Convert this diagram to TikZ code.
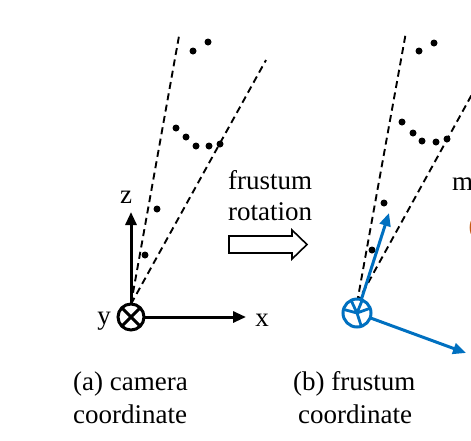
\documentclass[tikz,border=0pt]{standalone}
\usepackage{fontspec}
\setmainfont{Liberation Serif}
\usetikzlibrary{arrows.meta}
\definecolor{axblue}{RGB}{0,112,192}
\definecolor{axorange}{RGB}{197,90,17}
\tikzset{
  lbl/.style={inner sep=0pt, font=\fontsize{27}{33}\selectfont},
  frus/.style={dashed, dash pattern=on 7pt off 4.5pt, line width=1.9pt},
  pt/.style={circle, fill=black, inner sep=0pt, minimum size=7pt},
  axis/.style={line width=3pt, -{Triangle[length=13pt,width=11pt]}},
  baxis/.style={axblue, line width=3pt, -{Triangle[length=13pt,width=11pt]}},
}
\begin{document}
\begin{tikzpicture}[x=1pt,y=-1pt]
\useasboundingbox (0,0) rectangle (471,440);
% ---------- (a) camera coordinate ----------
\coordinate (oa) at (131,317);
\coordinate (fa) at (131,304);
\coordinate (fa1) at (179,36);
\coordinate (fa2) at (266,60);
\draw[frus] (fa) -- (fa1);
\draw[frus] (fa) -- (fa2);
\foreach \p [count=\i] in {(193,51),(208,42),(176,128),(186,137),(196,146),(209,146),(220,144),(157,209),(145,255)}
  \node[pt] (pa\i) at \p {};
\coordinate (za) at (131,212);
\coordinate (xa) at (246,317);
\draw[axis] (oa) -- (za);
\draw[axis] (oa) -- (xa);
\draw[line width=3pt, fill=white] (oa) circle (13);
\draw[line width=3pt] (oa) -- ++(45:13) (oa) -- ++(135:13) (oa) -- ++(225:13) (oa) -- ++(315:13);
\node[lbl, anchor=base] (zl) at (126,203) {z};
\node[lbl, anchor=base] (yl) at (104,324) {y};
\node[lbl, anchor=base] (xl) at (262,326) {x};
\node[lbl, anchor=base west] (ca1) at (73,390) {(a) camera};
\node[lbl, anchor=base west] (ca2) at (73,423) {coordinate};
% ---------- frustum rotation ----------
\node[lbl, anchor=base west] (fr1) at (228,189) {frustum};
\node[lbl, anchor=base west] (fr2) at (228,220) {rotation};
\draw[line width=1.6pt, fill=white] (229,236) -- (292,236) -- (292,230) -- (307,244.5) -- (292,259) -- (292,253) -- (229,253) -- cycle;
% ---------- (b) frustum coordinate ----------
\coordinate (ob) at (357,313);
\coordinate (fb) at (357,303);
\coordinate (fb1) at (406,32);
\coordinate (fb2) at (492,58);
\draw[frus] (fb) -- (fb1);
\draw[frus] (fb) -- (fb2);
\foreach \p [count=\i] in {(419,51),(434,43),(402,122),(413,133),(422,141),(436,142),(447,139),(384,203),(372,250)}
  \node[pt] (pb\i) at \p {};
\coordinate (zb) at (389,213);
\coordinate (xb) at (466,353);
\draw[baxis] (ob) -- (zb);
\draw[baxis] (ob) -- (xb);
\draw[axblue, line width=3pt, fill=white] (ob) circle (14);
\draw[axblue, line width=2.8pt] (ob) -- ++(195:14) (ob) -- ++(245:14) (ob) -- ++(292:14) (ob) -- ++(-20:14) (ob) -- ++(72:14);
\node[lbl, anchor=base west] (cb1) at (293,390) {(b) frustum};
\node[lbl, anchor=base west] (cb2) at (298,423) {coordinate};
% ---------- cut-off text at right edge ----------
\node[lbl, anchor=base west] (m1) at (452,190) {m};
\node[lbl, anchor=base west, text=axorange] (m2) at (468.5,234) {(};
\end{tikzpicture}
\end{document}
